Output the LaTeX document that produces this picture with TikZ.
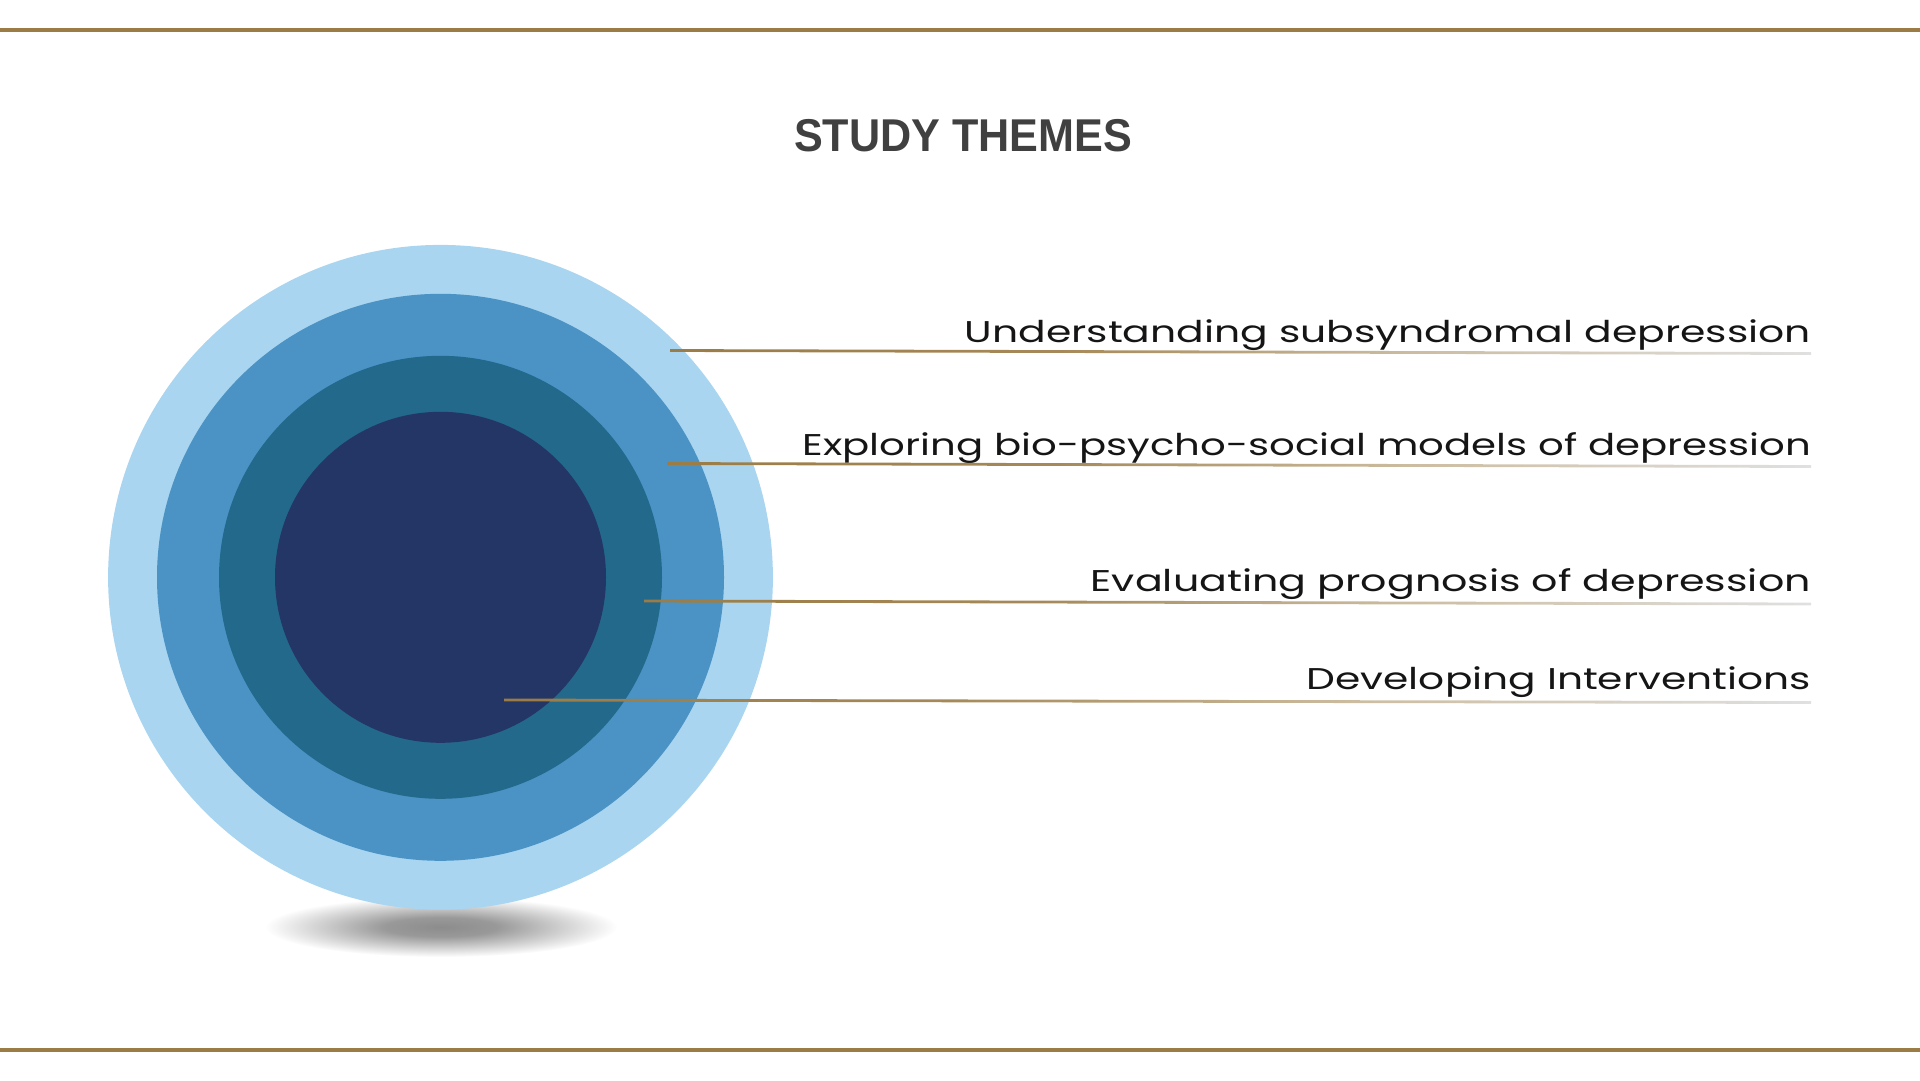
\documentclass[tikz,border=0pt]{standalone}
\usepackage{graphicx}
\usepackage{fontspec}
\setmainfont{Poppins}
\newfontfamily\titlefont{Liberation Sans}

\definecolor{gold}{HTML}{9B7C46}
\definecolor{ringA}{HTML}{A9D5F0}
\definecolor{ringB}{HTML}{4A93C4}
\definecolor{ringC}{HTML}{23698C}
\definecolor{ringD}{HTML}{243665}
\definecolor{titlegray}{HTML}{404040}
\definecolor{labelblack}{HTML}{151515}
\definecolor{fadegray}{HTML}{E0E0E0}

% gold rule that fades to pale grey towards its right end
\pgfdeclarehorizontalshading{goldfade}{100bp}{%
  color(0bp)=(gold); color(25bp)=(gold); color(42bp)=(gold!90!white);
  color(58bp)=(gold!50!white); color(75bp)=(fadegray); color(100bp)=(fadegray)}
% soft floor shadow under the rings
\pgfdeclareradialshading{floorshadow}{\pgfpoint{0bp}{0bp}}{%
  color(0bp)=(black!45); color(8bp)=(black!40); color(25bp)=(white); color(50bp)=(white)}

% set #2 horizontally stretched to a width of #1 pt
\newlength\natwd
\newcommand\fitwidth[2]{\settowidth\natwd{#2}%
  \pgfmathsetmacro\fitratio{#1/\natwd}\scalebox{\fitratio}[1]{#2}}

\tikzset{
  ring/.style={circle, inner sep=0pt, draw=none, minimum size=#1},
  themebar/.style={shading=goldfade},
  themelabel/.style={anchor=base east, inner sep=0pt, text=labelblack,
    font=\fontsize{30}{36}\selectfont},
  frame/.style={draw=gold, line width=4pt},
}

\begin{document}
\begin{tikzpicture}[x=1pt,y=-1pt]
\useasboundingbox (0,0) rectangle (1920,1080);

% top and bottom rules
\draw[frame] (0,30) -- (1920,30);
\draw[frame] (0,1050) -- (1920,1050);

% heading
\node[anchor=base, inner sep=0pt, text=titlegray,
      font=\titlefont\bfseries\fontsize{46}{50}\selectfont] (title) at (963,151)
  {\fitwidth{338}{STUDY THEMES}};

% shadow and concentric rings
\shade[shading=floorshadow] (441,927) ellipse [x radius=176, y radius=30];
\node[ring=664.8pt, fill=ringA] (r1) at (440.5,577.3) {};
\node[ring=567pt,   fill=ringB] (r2) at (r1.center) {};
\node[ring=443pt,   fill=ringC] (r3) at (r1.center) {};
\node[ring=331pt,   fill=ringD] (r4) at (r1.center) {};

% theme labels
\node[themelabel] (t1) at (1811,342.7) {\fitwidth{846}{Understanding subsyndromal depression}};
\node[themelabel] (t2) at (1811,455.7) {\fitwidth{1008}{Exploring bio-psycho-social models of depression}};
\node[themelabel] (t3) at (1811,591.7) {\fitwidth{720}{Evaluating prognosis of depression}};
\node[themelabel] (t4) at (1811,689.0) {\fitwidth{504}{Developing Interventions}};

% bar end points
\coordinate (s1) at (670,350.5);  \coordinate (e1) at (1811,353.5);
\coordinate (s2) at (667,463.5);  \coordinate (e2) at (1811,466.5);
\coordinate (s3) at (644,601.0);  \coordinate (e3) at (1811,604.0);
\coordinate (s4) at (504,700.0);  \coordinate (e4) at (1811,702.5);

% bars from the rings to the labels
\foreach \i in {1,2,3,4}{
  \shade[themebar] ([yshift=1.4pt]s\i) -- ([yshift=1.4pt]e\i)
    -- ([yshift=-1.4pt]e\i) -- ([yshift=-1.4pt]s\i) -- cycle;
}
\end{tikzpicture}
\end{document}
